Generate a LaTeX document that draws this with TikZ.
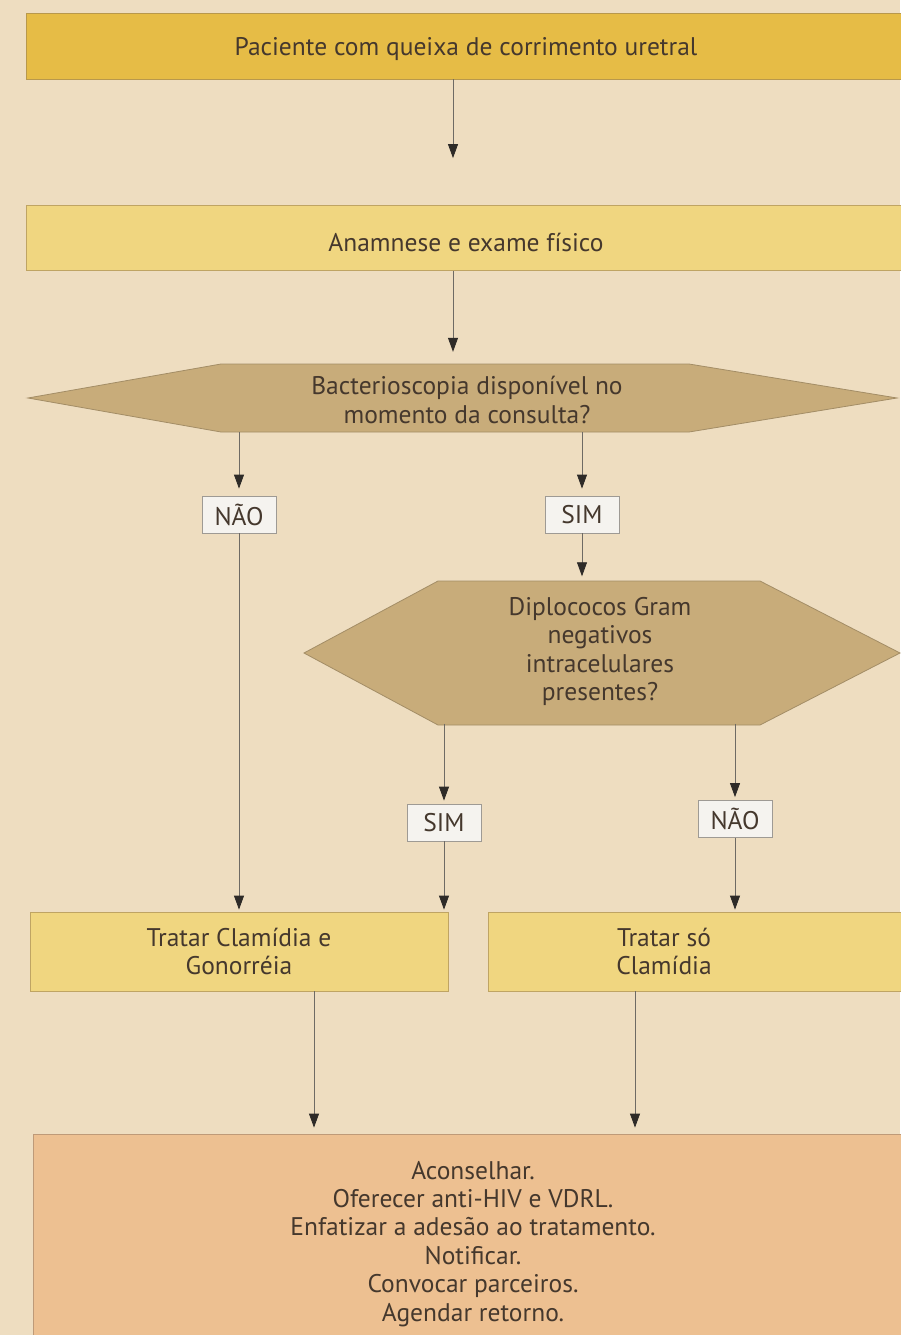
\documentclass[tikz,border=0pt]{standalone}
\usepackage{fontspec}
\setmainfont{PT Sans}
\usetikzlibrary{arrows.meta}
\definecolor{bgc}{HTML}{EEDDC0}
\definecolor{gold}{HTML}{E6BC46}
\definecolor{goldline}{HTML}{B8984C}
\definecolor{pale}{HTML}{F0D680}
\definecolor{paleline}{HTML}{BFA463}
\definecolor{tan}{HTML}{C8AC7A}
\definecolor{tanline}{HTML}{A38D66}
\definecolor{peach}{HTML}{EDC091}
\definecolor{peachline}{HTML}{BE9A78}
\definecolor{txt}{HTML}{45382D}
\definecolor{tagfill}{HTML}{F5F3EF}
\definecolor{tagline}{HTML}{9E9A94}
\definecolor{wire}{HTML}{6E6A64}
\definecolor{tip}{HTML}{2E2B28}
% invisible strut that lowers the text of a node
\newcommand{\lowstrut}[1]{\rule{0pt}{#1}}
\begin{document}
\begin{tikzpicture}[x=1pt,y=-1pt,
  every node/.style={font=\fontsize{25.5}{28.4}\selectfont, text=txt, align=center, inner sep=0pt},
  stepbox/.style={rectangle, line width=0.8pt},
  tag/.style={rectangle, draw=tagline, fill=tagfill, line width=0.8pt,
    minimum width=74pt, minimum height=37pt},
  hexbox/.style={draw=tanline, fill=tan, line width=0.8pt, line join=miter},
  arr/.style={draw=wire, line width=0.8pt,
    -{Triangle[length=14pt,width=10pt,color=tip,fill=tip]}}
]
% canvas
\fill[bgc] (0,0) rectangle (900,1335);
\useasboundingbox (0,0) rectangle (900,1335);

% column positions of the connectors
\coordinate (xa) at (453,0);
\coordinate (xb) at (314,0);
\coordinate (xc) at (635,0);

% first two steps
\node[stepbox, draw=goldline, fill=gold, minimum width=880pt, minimum height=66pt]
  (b1) at (466,46) {\lowstrut{25pt}Paciente com queixa de corrimento uretral};
\node[stepbox, draw=paleline, fill=pale, minimum width=880pt, minimum height=65pt]
  (b2) at (466,238) {\lowstrut{27pt}Anamnese e exame físico};

% first decision
\path[hexbox] (28,398) -- (221,364) -- (689,364) -- (897,398) -- (689,432) -- (221,432) -- cycle;
\node[minimum width=468pt, minimum height=68pt] (h1) at (467,398)
  {\lowstrut{22.5pt}Bacterioscopia disponível no\\momento da consulta?};

\node[tag] (nao1) at (239,514.5) {NÃO};
\node[tag] (sim1) at (582,514.5) {SIM};

% second decision
\path[hexbox] (304,653) -- (438,581) -- (760,581) -- (900,653) -- (760,725) -- (438,725) -- cycle;
\node[minimum width=322pt, minimum height=144pt] (h2) at (600,651.5)
  {Diplococos Gram\\negativos\\intracelulares\\presentes?};

\node[tag] (sim2) at (444,822.5) {SIM};
\node[tag] (nao2) at (735,819) {NÃO};

% treatments
\node[stepbox, draw=paleline, fill=pale, minimum width=418pt, minimum height=79pt]
  (t1) at (239,951.5) {Tratar Clamídia e\\Gonorréia};
\node[stepbox, draw=paleline, fill=pale, minimum width=420pt, minimum height=79pt]
  (t2) at (698,951.5) {};
\node (t2txt) at (664,951.5) {Tratar só\\Clamídia};

% final actions
\node[stepbox, draw=peachline, fill=peach, minimum width=880pt, minimum height=211pt]
  (bot) at (473,1239.5)
  {\lowstrut{26.5pt}Aconselhar.\\Oferecer anti-HIV e VDRL.\\Enfatizar a adesão ao tratamento.\\Notificar.\\Convocar parceiros.\\Agendar retorno.};

% connectors
\draw[arr, shorten >=47pt] (b1.south -| xa) -- (b2.north -| xa);
\draw[arr, shorten >=12pt] (b2.south -| xa) -- (h1.north -| xa);
\draw[arr, shorten >=7pt] (h1.south -| nao1) -- (nao1.north);
\draw[arr, shorten >=7pt] (h1.south -| sim1) -- (sim1.north);
\draw[arr, shorten >=2pt] (nao1.south) -- (t1.north -| nao1);
\draw[arr, shorten >=3pt] (sim1.south) -- (h2.north -| sim1);
\draw[arr, shorten >=3pt] (h2.south -| sim2) -- (sim2.north);
\draw[arr, shorten >=3pt] (h2.south -| nao2) -- (nao2.north);
\draw[arr, shorten >=2pt] (sim2.south) -- (t1.north -| sim2);
\draw[arr, shorten >=2pt] (nao2.south) -- (t2.north -| nao2);
\draw[arr, shorten >=6pt] (t1.south -| xb) -- (bot.north -| xb);
\draw[arr, shorten >=6pt] (t2.south -| xc) -- (bot.north -| xc);
\end{tikzpicture}
\end{document}
